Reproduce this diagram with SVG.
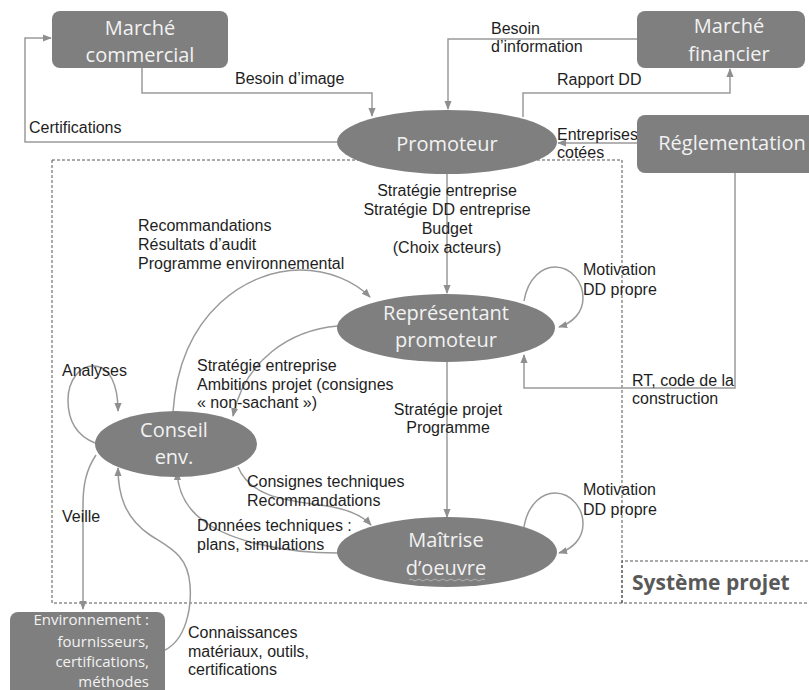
<svg xmlns="http://www.w3.org/2000/svg" width="809" height="690" viewBox="0 0 809 690">
<style>
.bg{fill:#ffffff}
.node{fill:#7f7f7f}
.nt{font-family:"Open Sans","Noto Sans",sans-serif;font-size:20px;fill:#f2f2f2;text-anchor:middle}
.nts{font-family:"Open Sans","Noto Sans",sans-serif;font-size:15px;fill:#f2f2f2;text-anchor:end}
.c{fill:none;stroke:#9a9a9a;stroke-width:1.5}
.lbl{font-family:"Liberation Sans",Arial,sans-serif;font-size:16px;fill:#1e1e1e}
.mid{text-anchor:middle}
.dash{fill:none;stroke:#555;stroke-width:1;stroke-dasharray:3 2}
.sys{font-family:"Open Sans","Noto Sans",sans-serif;font-size:21px;font-weight:bold;fill:#595959}
</style>
<defs>
<marker id="arr" viewBox="0 0 10 10" refX="9" refY="5" markerWidth="9" markerHeight="9" markerUnits="userSpaceOnUse" orient="auto">
<path d="M0,1 L10,5 L0,9 z" fill="#8f8f8f"/>
</marker>
</defs>
<rect class="bg" x="0" y="0" width="809" height="690"/>

<g id="systeme-projet">
<path class="dash" d="M52,160 H622 V603"/>
<path class="dash" d="M52,160 V603 H809"/>
<path class="dash" d="M622,603 V561 H809"/>
<text class="sys" x="632" y="590">Système projet</text>
</g>

<g id="connectors">
<path class="c" marker-end="url(#arr)" d="M142,68 V93 H372 V116"/>
<path class="c" marker-end="url(#arr)" d="M337,142 H25 V38 H51"/>
<path class="c" marker-end="url(#arr)" d="M637,39 H448 V109"/>
<path class="c" marker-end="url(#arr)" d="M523,117 V93 H730 V69"/>
<path class="c" marker-end="url(#arr)" d="M637,143 H558"/>
<path class="c" marker-end="url(#arr)" d="M735,173 V388 H524 V355"/>
<path class="c" marker-end="url(#arr)" d="M447,174 V293"/>
<path class="c" marker-end="url(#arr)" d="M447,362 V517"/>
<path class="c" marker-end="url(#arr)" d="M524,301 C528,277 543,267 555,267 C572,267 583,283 583,298 C583,313 572,323 559,327"/>
<path class="c" marker-end="url(#arr)" d="M524,527 C528,503 543,493 555,493 C572,493 583,509 583,524 C583,539 572,549 559,553"/>
<path class="c" marker-end="url(#arr)" d="M173,412 C180,310 250,270 300,270 C330,270 355,282 370,297"/>
<path class="c" marker-end="url(#arr)" d="M338,326 C290,330 245,360 233,416"/>
<path class="c" marker-end="url(#arr)" d="M95,443 C75,435 68,420 68,400 C68,380 80,366 93,366 C110,366 118,385 118,411"/>
<path class="c" marker-end="url(#arr)" d="M96,455 C86,470 83,485 83,505 V609"/>
<path class="c" marker-end="url(#arr)" d="M165,650 C185,640 192,610 190,585 C188,555 170,548 150,535 C125,518 118,495 118,468"/>
<path class="c" marker-end="url(#arr)" d="M238,467 C250,495 280,500 320,505 C345,508 362,515 371,525"/>
<path class="c" marker-end="url(#arr)" d="M338,553 C280,553 230,540 205,522 C185,508 178,490 177,472"/>

<text class="lbl" x="235" y="84">Besoin d’image</text>
<text class="lbl" x="29" y="133">Certifications</text>
<text class="lbl" x="491" y="34">Besoin</text>
<text class="lbl" x="491" y="52">d’information</text>
<text class="lbl" x="557" y="85">Rapport DD</text>
<text class="lbl" x="557" y="140">Entreprises</text>
<text class="lbl" x="557" y="158">cotées</text>
<text class="lbl mid" x="447" y="196">Stratégie entreprise</text>
<text class="lbl mid" x="447" y="215">Stratégie DD entreprise</text>
<text class="lbl mid" x="447" y="234">Budget</text>
<text class="lbl mid" x="447" y="253">(Choix acteurs)</text>
<text class="lbl" x="138" y="231">Recommandations</text>
<text class="lbl" x="138" y="250">Résultats d’audit</text>
<text class="lbl" x="138" y="269">Programme environnemental</text>
<text class="lbl" x="583" y="275">Motivation</text>
<text class="lbl" x="583" y="295">DD propre</text>
<text class="lbl" x="583" y="495">Motivation</text>
<text class="lbl" x="583" y="515">DD propre</text>
<text class="lbl" x="62" y="376">Analyses</text>
<text class="lbl" x="197" y="371">Stratégie entreprise</text>
<text class="lbl" x="197" y="390">Ambitions projet (consignes</text>
<text class="lbl" x="197" y="408">« non-sachant »)</text>
<text class="lbl mid" x="448" y="415">Stratégie projet</text>
<text class="lbl mid" x="448" y="433">Programme</text>
<text class="lbl" x="632" y="386">RT, code de la</text>
<text class="lbl" x="632" y="404">construction</text>
<text class="lbl" x="247" y="487">Consignes techniques</text>
<text class="lbl" x="247" y="506">Recommandations</text>
<text class="lbl" x="197" y="531">Données techniques :</text>
<text class="lbl" x="197" y="550">plans, simulations</text>
<text class="lbl" x="62" y="522">Veille</text>
<text class="lbl" x="188" y="638">Connaissances</text>
<text class="lbl" x="188" y="657">matériaux, outils,</text>
<text class="lbl" x="188" y="675">certifications</text>
</g>

<g id="marche-commercial">
<rect class="node" x="52" y="11" width="176" height="57" rx="8"/>
<text class="nt" x="140" y="35">Marché</text>
<text class="nt" x="140" y="62">commercial</text>
</g>
<g id="marche-financier">
<rect class="node" x="637" y="11" width="168" height="57" rx="8"/>
<text class="nt" x="729" y="33">Marché</text>
<text class="nt" x="729" y="61">financier</text>
</g>
<g id="reglementation">
<rect class="node" x="637" y="115" width="180" height="58" rx="8"/>
<text class="nt" x="732" y="150">Réglementation</text>
</g>
<g id="promoteur">
<ellipse class="node" cx="447" cy="142" rx="110" ry="32"/>
<text class="nt" x="447" y="151">Promoteur</text>
</g>
<g id="representant-promoteur">
<ellipse class="node" cx="446" cy="328" rx="109" ry="34"/>
<text class="nt" x="446" y="320">Représentant</text>
<text class="nt" x="446" y="347">promoteur</text>
</g>
<g id="conseil-env">
<ellipse class="node" cx="176" cy="444" rx="81" ry="33"/>
<text class="nt" x="174" y="437">Conseil</text>
<text class="nt" x="174" y="464">env.</text>
</g>
<g id="maitrise-oeuvre">
<ellipse class="node" cx="447" cy="552" rx="110" ry="35"/>
<text class="nt" x="446" y="547">Maîtrise</text>
<text class="nt" x="446" y="575">d’oeuvre</text>
<path d="M409,580 q2,-2 4,0 t4,0 t4,0 t4,0 t4,0 t4,0 t4,0 t4,0 t4,0 t4,0 t4,0 t4,0 t4,0 t4,0 t4,0 t4,0 t4,0 t4,0 t4,0" fill="none" stroke="#b0b0b0" stroke-width="1"/>
</g>
<g id="environnement">
<rect class="node" x="10" y="612" width="155" height="85" rx="8"/>
<text class="nts" x="149" y="625">Environnement :</text>
<text class="nts" x="149" y="647">fournisseurs,</text>
<text class="nts" x="149" y="667">certifications,</text>
<text class="nts" x="149" y="687">méthodes</text>
</g>
</svg>
